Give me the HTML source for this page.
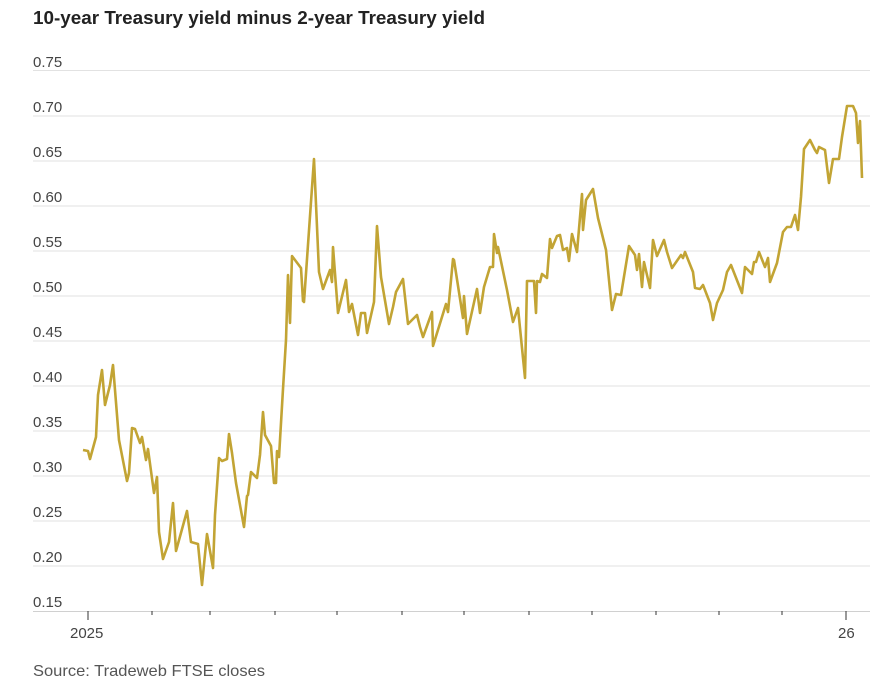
<!DOCTYPE html>
<html><head><meta charset="utf-8"><style>
html,body{margin:0;padding:0;background:#fff;width:879px;height:684px;overflow:hidden}
svg{display:block;font-family:"Liberation Sans",sans-serif}
</style></head><body>
<svg width="879" height="684" viewBox="0 0 879 684">
<text x="33" y="24" font-size="18.5" font-weight="bold" fill="#222" textLength="452" lengthAdjust="spacingAndGlyphs">10-year Treasury yield minus 2-year Treasury yield</text>
<g stroke="#e2e2e2" stroke-width="1">
<line x1="33" x2="870" y1="70.5" y2="70.5"/><line x1="33" x2="870" y1="116" y2="116"/>
<line x1="33" x2="870" y1="161" y2="161"/><line x1="33" x2="870" y1="206" y2="206"/>
<line x1="33" x2="870" y1="251" y2="251"/><line x1="33" x2="870" y1="296" y2="296"/>
<line x1="33" x2="870" y1="341" y2="341"/><line x1="33" x2="870" y1="386" y2="386"/>
<line x1="33" x2="870" y1="431" y2="431"/><line x1="33" x2="870" y1="476" y2="476"/>
<line x1="33" x2="870" y1="521" y2="521"/><line x1="33" x2="870" y1="566" y2="566"/>
</g>
<line x1="33" x2="870" y1="611.5" y2="611.5" stroke="#d0d0d0"/>
<g font-size="15" fill="#444">
<text x="33" y="67">0.75</text><text x="33" y="112">0.70</text><text x="33" y="157">0.65</text>
<text x="33" y="202">0.60</text><text x="33" y="247">0.55</text><text x="33" y="292">0.50</text>
<text x="33" y="337">0.45</text><text x="33" y="382">0.40</text><text x="33" y="427">0.35</text>
<text x="33" y="472">0.30</text><text x="33" y="517">0.25</text><text x="33" y="562">0.20</text>
<text x="33" y="607">0.15</text>
<text x="70" y="638">2025</text><text x="838" y="638">26</text>
<text x="33" y="676" fill="#555" font-size="16" textLength="232" lengthAdjust="spacingAndGlyphs">Source: Tradeweb FTSE closes</text>
</g>
<g stroke="#333" stroke-width="1">
<line x1="88" x2="88" y1="611" y2="620"/>
<line x1="152" x2="152" y1="611" y2="615"/><line x1="210" x2="210" y1="611" y2="615"/>
<line x1="275" x2="275" y1="611" y2="615"/><line x1="337" x2="337" y1="611" y2="615"/>
<line x1="402" x2="402" y1="611" y2="615"/><line x1="464" x2="464" y1="611" y2="615"/>
<line x1="529" x2="529" y1="611" y2="615"/><line x1="592" x2="592" y1="611" y2="615"/>
<line x1="656" x2="656" y1="611" y2="615"/><line x1="719" x2="719" y1="611" y2="615"/>
<line x1="782" x2="782" y1="611" y2="615"/><line x1="846" x2="846" y1="611" y2="620"/>
</g>
<polyline fill="none" stroke="#c2a434" stroke-width="2.6" stroke-linejoin="round" points="
83,450 88,451 90,459 96,437 98,395 102,370 105,405 110,385 113,365 115,390 119,440 127,481 129,473 132,428 135,429 140,443 142,437 146,460 148,449 154,493 157,477 159,532 163,559 169,542 173,503 176,551 187,511 191,542 198,544 202,585 207,534 213,568 215,515 219,458 222,461 227,459 229,434 232,453 236,483 244,527 247,496 248,495 251,472 257,478 260,455 263,412 265,435 271,446 274,483 276,483 277,451 279,457 283,389 286,340
288,275 290,323 292,256 301,268 303,301 304,302 314,159 319,272 323,289 330,270 332,282 333,247 338,313 346,280 349,312 352,304 358,335 361,313 365,313 367,333 374,302 377,226 381,277 389,324 393,307 396,292 403,279 408,324 417,315 420,327 423,337 432,312 433,346 446,304 448,312 453,259 454,260 463,318 464,296 467,334 477,289 480,313 484,287 490,267 493,267 494,234 497,253 498,247 507,290 513,322 518,308 525,378 527,281 534,281 536,313 537,281 540,282 542,274 547,278 550,239 552,248 557,236 560,235 563,250 567,248 569,261 572,234 577,252 582,194 583,230 586,200 593,189 598,218 606,250 612,310 616,294 621,295 629,246 635,255 637,270 639,254 642,287 644,262 650,288 653,240 657,256 664,240 667,252 672,268 681,255 683,258 685,252 693,272 695,288 700,289 703,285 710,303 713,320 717,303 723,290 727,272 731,265 742,293 745,267 752,274 754,262 756,262 759,252 765,267 768,258 770,282 777,263 783,232 787,227 791,227 795,215 798,230 801,197 804,149 810,140 815,150 817,153 819,147 825,150 829,183 833,159 839,159 842,137 847,106 853,106 856,113 858,143 860,121 862,178"/>
</svg>
</body></html>
